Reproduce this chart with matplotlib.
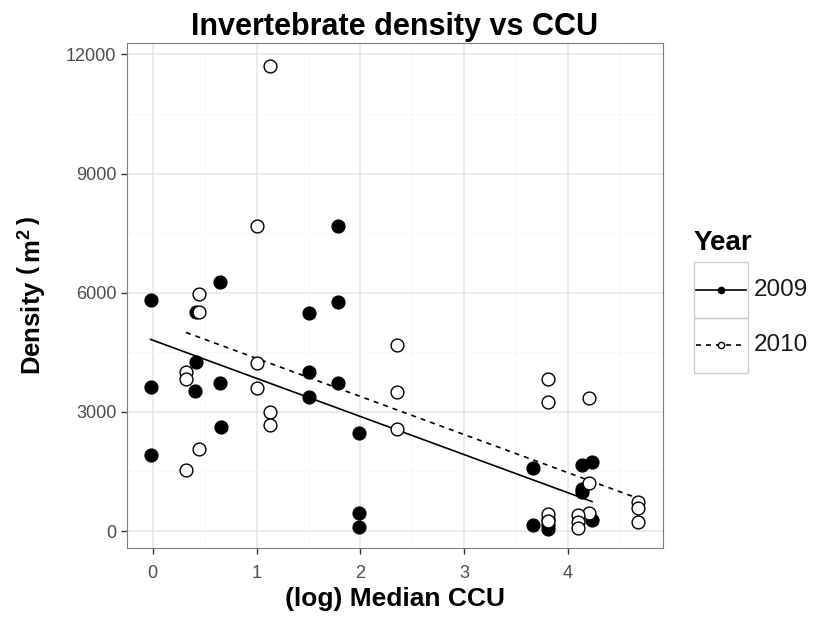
import numpy as np
import matplotlib
matplotlib.use('Agg')
import matplotlib.pyplot as plt
from matplotlib.lines import Line2D
from matplotlib.patches import Rectangle

plt.rcParams['font.family'] = ['Liberation Sans', 'DejaVu Sans']
plt.rcParams['mathtext.fontset'] = 'custom'
plt.rcParams['mathtext.rm'] = 'Liberation Sans:bold'
plt.rcParams['mathtext.bf'] = 'Liberation Sans:bold'

# 2009 (filled) and 2010 (open) observations: log median CCU vs density
ccu_2009 = [-0.02, -0.02, -0.02, 0.42, 0.42, 0.41, 0.65, 0.65, 0.66,
            1.50, 1.50, 1.50, 1.78, 1.78, 1.78, 1.99, 1.99, 1.99,
            3.66, 3.66, 3.81, 3.81, 3.81, 4.13, 4.23, 4.13, 4.13, 4.23]
dens_2009 = [5810, 3630, 1910, 5520, 4260, 3530, 6270, 3720, 2620,
             5490, 4010, 3380, 7670, 5770, 3720, 2460, 460, 110,
             1580, 150, 300, 150, 50, 1660, 1740, 1070, 990, 280]

ccu_2010 = [0.32, 0.32, 0.32, 0.45, 0.45, 0.45, 1.00, 1.00, 1.00,
            1.125, 1.125, 1.125, 2.35, 2.35, 2.35, 3.81, 3.81, 3.81, 3.81,
            4.20, 4.20, 4.20, 4.10, 4.10, 4.10, 4.67, 4.67, 4.67]
dens_2010 = [4010, 3840, 1540, 5960, 5520, 2060, 7670, 4240, 3610,
             11700, 3000, 2670, 4680, 3500, 2580, 3820, 3250, 420, 250,
             3340, 1200, 450, 400, 230, 70, 740, 570, 230]

years = ['2009', '2010']
x_ticks = [0, 1, 2, 3, 4]
y_ticks = [0, 3000, 6000, 9000, 12000]

fig = plt.figure(figsize=(8.18, 6.18), dpi=100)
ax = fig.add_axes([0.155, 0.113, 0.655, 0.817])

ax.set_xlim(-0.25, 4.91)
ax.set_ylim(-430, 12280)
ax.set_xticks(x_ticks)
ax.set_yticks(y_ticks)
ax.set_xticks([0.5, 1.5, 2.5, 3.5, 4.5], minor=True)
ax.set_yticks([1500, 4500, 7500, 10500], minor=True)
ax.grid(True, which='major', color='#e5e5e5', lw=1.1, zorder=0)
ax.grid(True, which='minor', color='#f7f7f7', lw=0.6, zorder=0)
ax.tick_params(which='minor', length=0)
ax.tick_params(which='major', length=4, color='#333333', labelsize=13,
               labelcolor='#4d4d4d', width=1)
ax.tick_params(axis='x', pad=8)
for s in ax.spines.values():
    s.set_color('#7f7f7f')

# linear fits per year
for xs, ys, ls in [(ccu_2009, dens_2009, '-'), (ccu_2010, dens_2010, (0, (3, 3)))]:
    xs = np.array(xs)
    k, b = np.polyfit(xs, ys, 1)
    xx = np.array([xs.min(), xs.max()])
    ax.plot(xx, k * xx + b, color='black', ls=ls, lw=1.2, zorder=2)

ax.scatter(ccu_2009, dens_2009, s=85, c='black', edgecolors='black', zorder=3)
ax.scatter(ccu_2010, dens_2010, s=85, c='white', edgecolors='black',
           linewidths=1.0, zorder=3)

ax.set_title('Invertebrate density vs CCU', fontsize=22, fontweight='bold', pad=6)
ax.set_xlabel('(log) Median CCU', fontsize=19, fontweight='bold', labelpad=4)
ax.set_ylabel(r'Density $\left(\,\mathregular{m^{2}}\,\right)$', fontsize=18.5,
              fontweight='bold', labelpad=14)

# legend drawn ggplot style
fig.text(0.848, 0.606, 'Year', fontsize=20, fontweight='bold', va='center')
key_w, key_h = 0.067, 0.09
for i, (yr, ls, fc) in enumerate([(years[0], '-', 'black'),
                                  (years[1], (0, (3, 3)), 'white')]):
    y0 = 0.576 - (i + 1) * key_h
    fig.patches.append(Rectangle((0.848, y0), key_w, key_h, transform=fig.transFigure,
                                 fill=False, ec='#cccccc', lw=1))
    fig.lines.append(Line2D([0.851, 0.912], [y0 + key_h / 2] * 2, transform=fig.transFigure,
                            color='black', ls=ls, lw=1.2, figure=fig))
    fig.lines.append(Line2D([0.8815], [y0 + key_h / 2], transform=fig.transFigure,
                            marker='o', ms=4.5, mfc=fc, mec='black', ls='none',
                            figure=fig))
    fig.text(0.922, y0 + key_h / 2, yr, fontsize=17.5, va='center', color='#1a1a1a')

fig.savefig('out.png', dpi=100)
